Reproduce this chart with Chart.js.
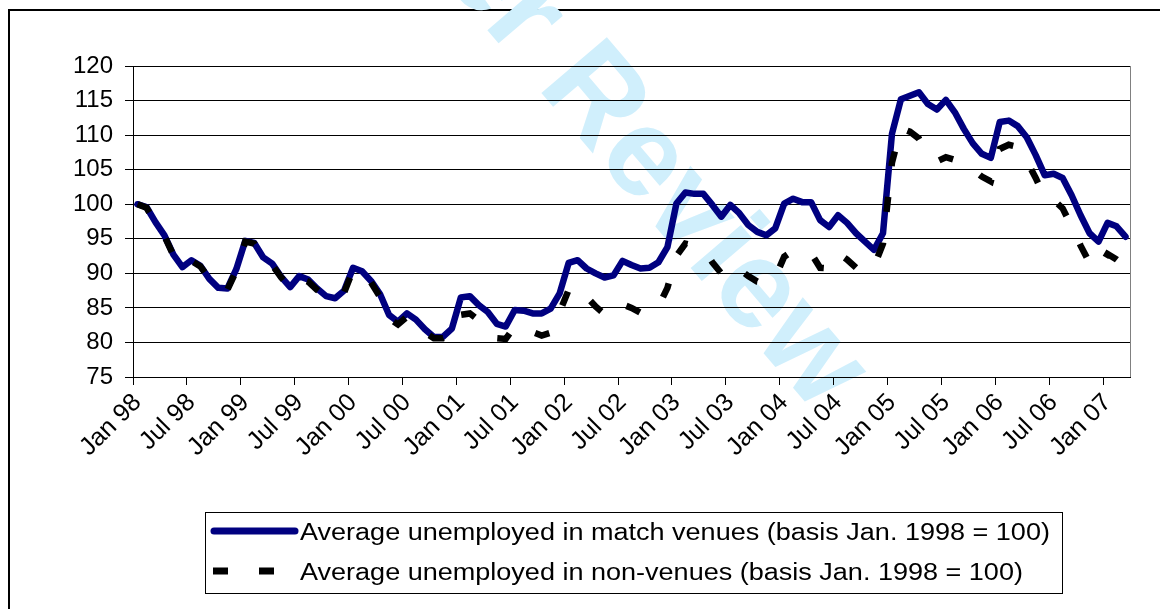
<!DOCTYPE html>
<html>
<head>
<meta charset="utf-8">
<script src="https://cdn.jsdelivr.net/npm/chart.js@4.4.1/dist/chart.umd.min.js"></script>
<style>
  html, body { margin: 0; padding: 0; background: #fff; }
  #wrap { width: 1160px; height: 609px; }
</style>
</head>
<body>
<div id="wrap"><canvas id="chart" width="1160" height="609"></canvas></div>
<script>
// categories: Jan 98 .. Mar 07, one per month
const monthNames = ['Jan', 'Feb', 'Mar', 'Apr', 'May', 'Jun', 'Jul', 'Aug', 'Sep', 'Oct', 'Nov', 'Dec'];
const yearLabels = ['98', '99', '00', '01', '02', '03', '04', '05', '06', '07'];
const months = [];
yearLabels.forEach(y => monthNames.forEach(m => months.push(m + ' ' + y)));
months.length = 111;

// match venues (basis Jan. 1998 = 100)
const venues = [
  100.0, 99.6, 97.4, 95.5, 92.7, 90.9, 91.9, 91.1, 89.2, 87.9, 87.8, 90.6,
  94.7, 94.4, 92.3, 91.4, 89.5, 88.0, 89.6, 89.1, 87.8, 86.7, 86.4, 87.5,
  90.8, 90.3, 88.9, 87.0, 84.0, 83.0, 84.2, 83.3, 81.9, 80.8, 80.8, 82.0,
  86.5, 86.7, 85.4, 84.4, 82.7, 82.3, 84.7, 84.6, 84.2, 84.2, 84.9, 87.1,
  91.5, 91.9, 90.7, 90.0, 89.4, 89.7, 91.8, 91.2, 90.7, 90.8, 91.6, 93.8,
  100.1, 101.7, 101.5, 101.5, 99.9, 98.2, 99.9, 98.7, 97.0, 96.0, 95.5, 96.5,
  100.1, 100.8, 100.3, 100.3, 97.7, 96.7, 98.4, 97.3, 95.8, 94.6, 93.4, 95.8,
  110.2, 115.2, 115.7, 116.2, 114.5, 113.7, 115.1, 113.3, 110.9, 108.8, 107.3, 106.7,
  111.9, 112.1, 111.3, 109.7, 107.1, 104.2, 104.4, 103.8, 101.3, 98.4, 95.8, 94.6,
  97.3, 96.8, 95.3
];

// non-venues (basis Jan. 1998 = 100)
const nonVenues = [
  100.0, 99.5, 97.3, 95.4, 92.6, 91.0, 91.8, 91.0, 89.2, 87.9, 87.6, 90.4,
  94.6, 94.3, 92.2, 91.2, 89.4, 88.0, 89.3, 88.8, 87.6, 86.6, 86.3, 87.2,
  90.5, 90.0, 88.7, 86.6, 83.5, 82.6, 83.7, 82.8, 81.5, 80.6, 80.6, 81.2,
  84.0, 84.2, 83.2, 82.0, 80.6, 80.5, 82.3, 82.3, 81.5, 81.0, 81.4, 84.4,
  87.6, 88.1, 86.6, 85.2, 84.1, 84.0, 85.5, 85.0, 84.3, 84.3, 85.2, 87.9,
  92.5, 94.3, 94.0, 93.6, 91.6, 90.0, 91.3, 90.6, 89.6, 88.8, 88.6, 89.4,
  92.4, 93.3, 93.0, 92.9, 90.8, 90.7, 92.9, 92.0, 90.8, 90.2, 91.0, 94.3,
  106.0, 111.0, 110.5, 109.5, 107.3, 106.2, 106.8, 106.4, 105.8, 105.0, 104.0, 103.3,
  108.0, 108.6, 108.3, 106.3, 103.8, 101.0, 100.6, 99.4, 96.8, 94.0, 91.5, 90.6,
  92.8, 92.0, 91.0
];

const seriesLabels = [
  'Average unemployed in match venues (basis Jan. 1998 = 100)',
  'Average unemployed in non-venues (basis Jan. 1998 = 100)'
];

const FONT = '"Liberation Sans", Arial, sans-serif';
Chart.defaults.font.family = FONT;
Chart.defaults.color = '#000';

// white page, outer border and the watermark, under everything
const background = {
  id: 'background',
  beforeDraw(chart) {
    const c = chart.ctx;
    c.save();
    c.fillStyle = '#fff';
    c.fillRect(0, 0, chart.width, chart.height);
    c.strokeStyle = '#000';
    c.lineWidth = 2;
    c.strokeRect(9, 10, 1200, 700);

    c.translate(842, 392);
    c.rotate(49.5 * Math.PI / 180);
    c.font = 'bold 125px ' + FONT;
    c.fillStyle = 'rgb(208, 239, 252)';
    c.textAlign = 'right';
    c.textBaseline = 'middle';
    c.fillText('For Peer Review', 0, 0);
    c.restore();
  }
};

// right edge of plot area + legend box
const frameAndLegend = {
  id: 'frameAndLegend',
  afterDraw(chart) {
    const c = chart.ctx;
    const a = chart.chartArea;
    c.save();
    c.strokeStyle = '#808080';
    c.lineWidth = 1;
    c.beginPath();
    c.moveTo(a.right + 0.5, a.top);
    c.lineTo(a.right + 0.5, a.bottom);
    c.stroke();

    // legend
    c.strokeStyle = '#000';
    c.lineWidth = 1;
    c.strokeRect(205.5, 512.5, 857, 81);
    const rows = [531, 571];
    chart.data.datasets.forEach((ds, i) => {
      const y = rows[i];
      c.save();
      c.strokeStyle = ds.borderColor;
      c.lineWidth = 7;
      if (ds.borderDash) {
        c.setLineDash(ds.borderDash);
        c.lineCap = 'butt';
        c.beginPath();
        c.moveTo(213, y);
        c.lineTo(290, y);
        c.stroke();
      } else {
        c.lineCap = 'round';
        c.beginPath();
        c.moveTo(214, y);
        c.lineTo(295, y);
        c.stroke();
      }
      c.restore();
      c.save();
      c.translate(300, y + 9);
      c.scale(1.15, 1);
      c.font = '23.5px ' + FONT;
      c.fillStyle = '#000';
      c.textAlign = 'left';
      c.textBaseline = 'alphabetic';
      c.fillText(ds.label, 0, 0);
      c.restore();
    });
    c.restore();
  }
};

new Chart(document.getElementById('chart'), {
  type: 'line',
  data: {
    labels: months,
    datasets: [
      {
        label: seriesLabels[0],
        data: venues,
        borderColor: '#000080',
        borderWidth: 6.5,
        borderJoinStyle: 'round',
        borderCapStyle: 'round',
        pointRadius: 0,
        tension: 0,
        order: 1,
      },
      {
        label: seriesLabels[1],
        data: nonVenues,
        borderColor: '#000000',
        borderWidth: 6.5,
        borderDash: [15, 31],
        borderCapStyle: 'butt',
        pointRadius: 0,
        tension: 0,
        order: 0,
      },
    ],
  },
  options: {
    responsive: false,
    animation: false,
    events: [],
    layout: { padding: { top: 66, right: 30, left: 0, bottom: 0 } },
    plugins: {
      legend: { display: false },
      tooltip: { enabled: false },
    },
    scales: {
      x: {
        offset: true,
        grid: {
          offset: true,
          drawOnChartArea: false,
          tickLength: 8,
          color: ctx => (ctx.index % 6 === 0 ? '#000' : 'rgba(0,0,0,0)'),
        },
        border: { color: '#000', width: 1 },
        ticks: {
          autoSkip: false,
          maxRotation: 45,
          minRotation: 45,
          padding: 3,
          font: { size: 25 },
          callback: (v, i) => (i % 6 === 0 ? months[i] : ''),
        },
        afterFit: s => { s.height = 232; },
      },
      y: {
        min: 75,
        max: 120,
        ticks: { stepSize: 5, padding: 12, font: { size: 24 } },
        grid: { color: '#000', tickLength: 8 },
        border: { color: '#000' },
        afterFit: s => { s.width = 133; },
      },
    },
  },
  plugins: [background, frameAndLegend],
});
</script>
</body>
</html>
